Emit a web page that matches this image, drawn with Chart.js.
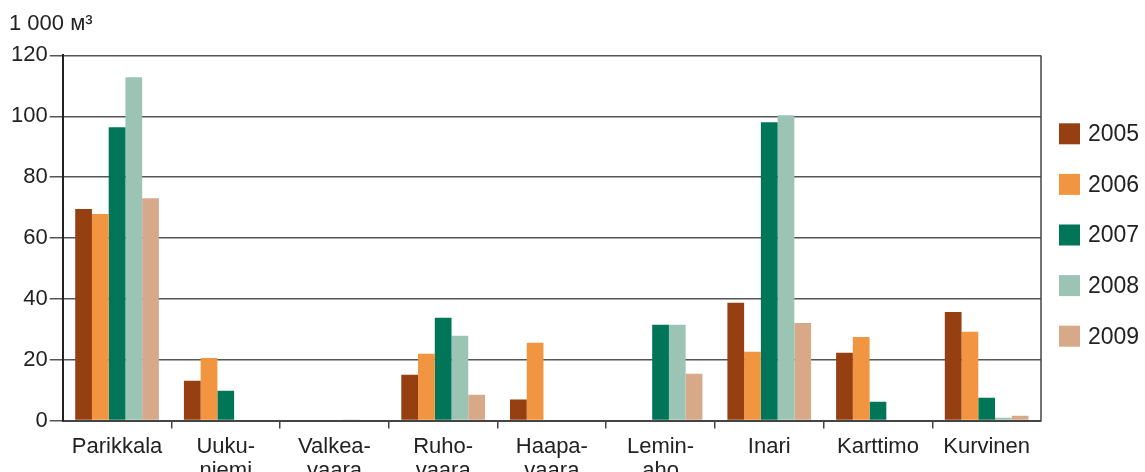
<!DOCTYPE html>
<html>
<head>
<meta charset="utf-8">
<script src="https://cdn.jsdelivr.net/npm/chart.js@4/dist/chart.umd.min.js"></script>
<style>
  html, body { margin: 0; padding: 0; background: #fff; overflow: hidden; }
  #wrap { width: 1145px; height: 489px; position: relative; }
</style>
</head>
<body>
<div id="wrap"><canvas id="chart"></canvas></div>
<script>
// Kategoriat (monirivinen nimi taulukkona)
const categories = [
    ['Parikkala'], ['Uuku-', 'niemi'], ['Valkea-', 'vaara'], ['Ruho-', 'vaara'],
    ['Haapa-', 'vaara'], ['Lemin-', 'aho'], ['Inari'], ['Karttimo'], ['Kurvinen']
];
const years = ['2005', '2006', '2007', '2008', '2009'];
const colors = ['#964011', '#F29540', '#007558', '#9CC4B5', '#D7A988'];

// Arvot, 1 000 m³
const v2005 = [69.5, 13.1, 0.3, 15.1, 6.9, 0, 38.7, 22.3, 35.7];
const v2006 = [67.9, 20.6, 0, 22.0, 25.6, 0, 22.6, 27.5, 29.2];
const v2007 = [96.4, 9.8, 0, 33.8, 0, 31.5, 98.0, 6.2, 7.5];
const v2008 = [112.8, 0, 0.2, 27.9, 0, 31.5, 100.3, 0, 0.9];
const v2009 = [73.1, 0, 0, 8.5, 0, 15.4, 32.1, 0, 1.6];

const yTicks = [0, 20, 40, 60, 80, 100, 120];

const FONT = '"Liberation Sans", Arial, sans-serif';

// Oma selite oikealle
const sideLegend = {
    id: 'sideLegend',
    afterDraw(chart) {
        const ctx = chart.ctx;
        const x = chart.chartArea.right + 18;
        ctx.save();
        ctx.font = '23px ' + FONT;
        ctx.textBaseline = 'middle';
        years.forEach((y, i) => {
            const cy = 235 + (i - 2) * 50.6;
            ctx.fillStyle = colors[i];
            ctx.fillRect(x, cy - 10.5, 21, 21);
            ctx.fillStyle = '#222';
            ctx.fillText(y, x + 29, cy + 1);
        });
        ctx.restore();
    }
};

// Oikea reunaviiva
const rightBorder = {
    id: 'rightBorder',
    afterDatasetsDraw(chart) {
        const { ctx, chartArea } = chart;
        ctx.save();
        ctx.strokeStyle = '#444';
        ctx.lineWidth = 1.5;
        ctx.beginPath();
        ctx.moveTo(chartArea.right, chartArea.top);
        ctx.lineTo(chartArea.right, chartArea.bottom);
        ctx.stroke();
        ctx.restore();
    }
};

const series = [v2005, v2006, v2007, v2008, v2009];

new Chart(document.getElementById('chart'), {
    type: 'bar',
    data: {
        labels: categories,
        datasets: series.map((d, i) => ({
            label: years[i],
            data: d,
            backgroundColor: colors[i],
            borderWidth: 0,
            categoryPercentage: 0.77,
            barPercentage: 1
        }))
    },
    options: {
        responsive: true,
        maintainAspectRatio: false,
        animation: false,
        layout: { padding: { left: 9, right: 104, top: 0, bottom: 0 } },
        plugins: {
            legend: { display: false },
            tooltip: { enabled: false },
            title: {
                display: true,
                text: '1 000 м³',
                align: 'start',
                color: '#222',
                font: { family: FONT, size: 22, weight: 'normal', lineHeight: 1.2 },
                padding: { top: 11, bottom: 18 }
            }
        },
        scales: {
            x: {
                offset: true,
                grid: {
                    display: true,
                    drawOnChartArea: false,
                    offset: true,
                    tickLength: 8,
                    // ei väliviivaa akselin päihin
                    color: (c) => (c.type !== 'tick' || c.index === 0) ? 'rgba(0,0,0,0)' : '#444',
                    lineWidth: 1.5
                },
                border: { display: true, color: '#444', width: 2 },
                ticks: {
                    autoSkip: false,
                    maxRotation: 0,
                    padding: 6,
                    color: '#222',
                    font: { family: FONT, size: 22, lineHeight: 1.1 }
                }
            },
            y: {
                min: 0,
                max: 120,
                afterBuildTicks(axis) { axis.ticks = yTicks.map(v => ({ value: v })); },
                grid: {
                    color: '#555',
                    lineWidth: 1.5,
                    tickLength: 13
                },
                border: { display: true, color: '#222', width: 2 },
                ticks: {
                    padding: 2,
                    color: '#222',
                    font: { family: FONT, size: 22 }
                }
            }
        }
    },
    plugins: [sideLegend, rightBorder]
});
</script>
</body>
</html>
